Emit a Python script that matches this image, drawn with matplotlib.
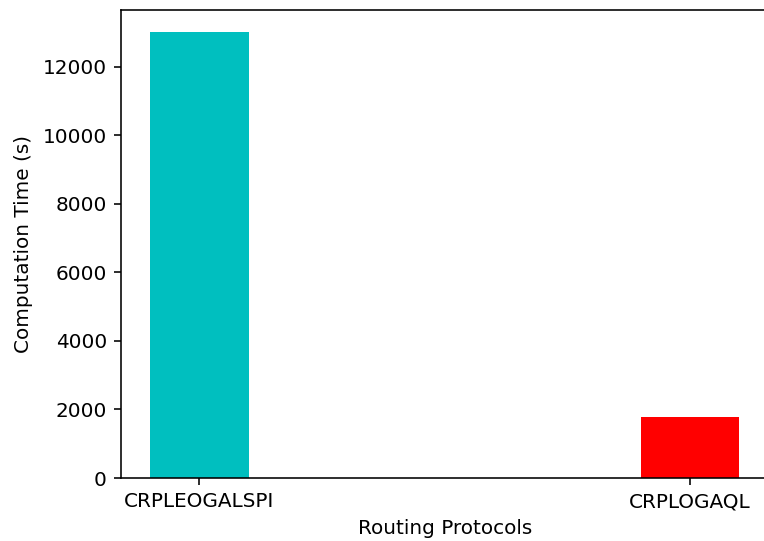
import matplotlib
matplotlib.use("Agg")
import matplotlib.pyplot as plt

protocols = ["CRPLEOGALSPI", "CRPLOGAQL"]
times = [13000, 1780]
colors = ["c", "r"]

DPI = 144
fig = plt.figure(figsize=(764 / DPI, 541 / DPI), dpi=DPI)
ax = fig.add_axes([121/764, 63/541, 647.5/764, 468/541])
ax.bar(protocols, times, color=colors, width=0.2)
ax.set_xlabel("Routing Protocols")
ax.set_ylabel("Computation Time (s)", labelpad=5)
fig.savefig("out.png", dpi=DPI)
